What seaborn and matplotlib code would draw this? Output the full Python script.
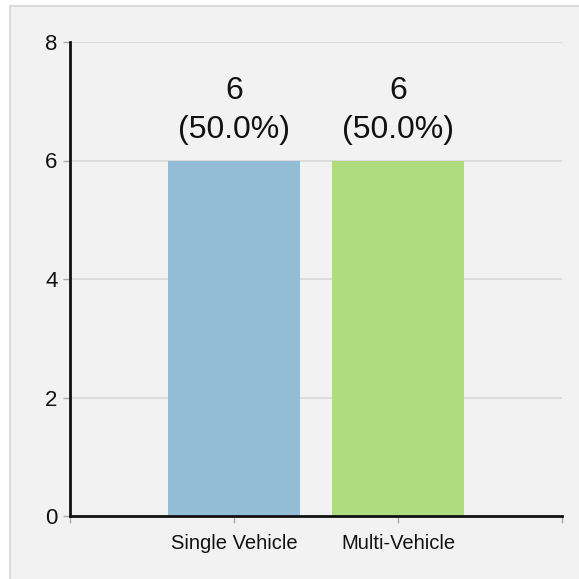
import matplotlib
matplotlib.use("Agg")
import matplotlib.pyplot as plt
import seaborn as sns
import pandas as pd
from matplotlib.patches import Rectangle

categories = ["Single Vehicle", "Multi-Vehicle"]
counts = [6, 6]
percents = [50.0, 50.0]
colors = ["#93bdd7", "#b0dc80"]

sns.set_theme(style="white")
plt.rcParams["font.family"] = ["Liberation Sans", "DejaVu Sans"]

df = pd.DataFrame({"cat": categories, "n": counts})

fig = plt.figure(figsize=(5.79, 5.79), dpi=100, facecolor="white")
bg = Rectangle((10 / 579, -0.01), 1, 1.01 - 6 / 579, transform=fig.transFigure,
               facecolor="#f2f2f2", edgecolor="#d6d6d6", linewidth=1.2, zorder=-10)
fig.add_artist(bg)
ax = fig.add_axes([70 / 579, 1 - 516 / 579, (562 - 70) / 579, (516 - 42) / 579])
ax.set_facecolor("#f2f2f2")

sns.barplot(data=df, x="cat", y="n", hue="cat", palette=colors, width=0.8,
            legend=False, ax=ax, saturation=1, zorder=2, linewidth=0, edgecolor="none")

ax.set_xlim(-1, 2)
ax.set_ylim(0, 8)
ax.set_yticks([0, 2, 4, 6, 8])
ax.set_xticks([-1, 0, 1, 2])
ax.set_xticklabels(["", categories[0], categories[1], ""])
ax.set_xlabel("")
ax.set_ylabel("")
ax.yaxis.grid(True, color="#dcdcdc", linewidth=1.5, zorder=0)
ax.set_axisbelow(True)

for side in ["top", "right"]:
    ax.spines[side].set_visible(False)
for side in ["left", "bottom"]:
    ax.spines[side].set_color("#111111")
    ax.spines[side].set_linewidth(2)

ax.tick_params(axis="y", labelsize=16, colors="#aaaaaa", labelcolor="#111111",
               length=5, width=1, left=True, pad=4)
ax.tick_params(axis="x", labelsize=14.5, colors="#aaaaaa", labelcolor="#111111",
               length=5, width=1, bottom=True, pad=8)

labels = [f"{c}\n({p:.1f}%)" for c, p in zip(counts, percents)]
for cont, lab in zip(ax.containers, labels):
    ax.bar_label(cont, labels=[lab], padding=11, fontsize=23, color="#111111",
                 linespacing=1.38)

fig.savefig("out.png", dpi=100, facecolor="white")
